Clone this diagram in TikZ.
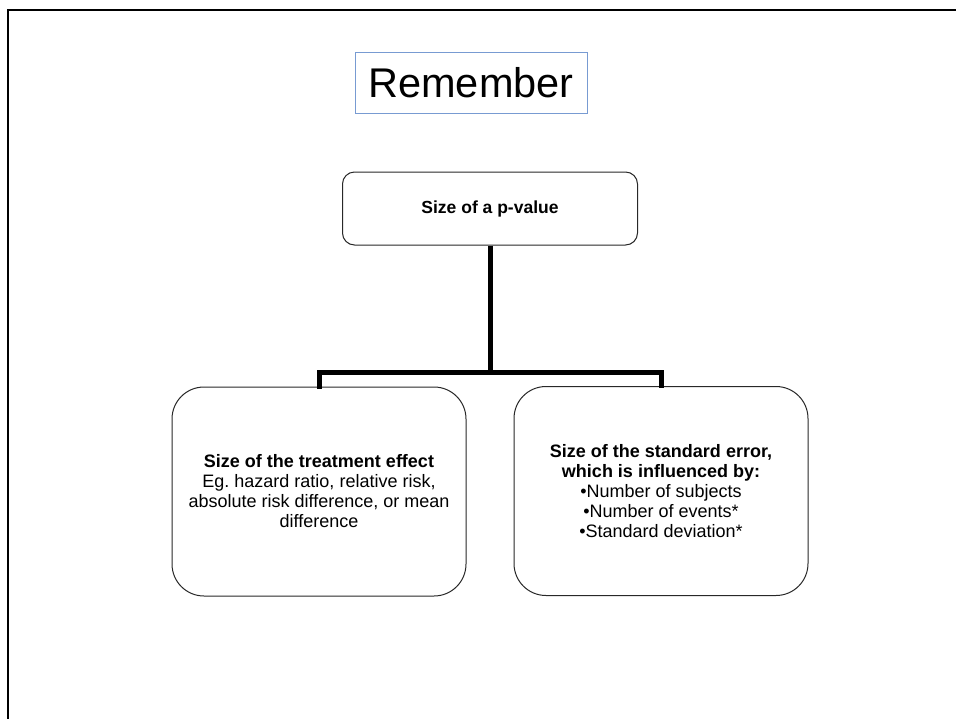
\documentclass[tikz,border=0pt]{standalone}
\usepackage{fontspec}
\setmainfont{Liberation Sans}
\frenchspacing
\definecolor{remblue}{RGB}{120,155,210}
\definecolor{boxline}{RGB}{40,40,40}
\tikzset{
  titlebox/.style={draw=remblue, line width=0.9pt, minimum width=232pt, minimum height=61pt, inner sep=0pt, font=\fontsize{41.5}{44}\selectfont},
  topbox/.style={draw=boxline, line width=1pt, rounded corners=12pt, minimum width=295pt, minimum height=73pt, inner sep=0pt, align=center, font=\fontsize{17.5}{20}\selectfont\bfseries},
  lowbox/.style={draw=boxline, line width=1pt, rounded corners=32pt, minimum width=294pt, minimum height=209pt, inner sep=0pt, align=center, font=\fontsize{18}{20}\selectfont\frenchspacing},
  conn/.style={line width=5pt, black, line join=miter},
  frame/.style={line width=2.5pt, black}
}
\begin{document}
\begin{tikzpicture}[x=1pt, y=-1pt]
\useasboundingbox (0,0) rectangle (956,718);
\fill[white] (0,0) rectangle (956,718);
\draw[frame] (8,730) -- (8,10) -- (970,10);
\node[titlebox] (rem) at (471,82.5) {Remember};
\node[topbox] (top) at (490,208.5) {Size of a p-value};
\node[lowbox] (left) at (319,491.5) {\textbf{Size of the treatment effect}\\Eg. hazard ratio, relative risk,\\absolute risk difference, or mean\\difference};
\node[lowbox] (right) at (661,491) {\textbf{Size of the standard error,}\\\textbf{which is influenced by:}\\•Number of subjects\\•Number of events*\\•Standard deviation*};
\coordinate (j) at (490,372);
\draw[conn] (top.south) -- (j);
\draw[conn] ([yshift=-2pt]left.north) |- (j) -| ([yshift=-2pt]right.north);
\end{tikzpicture}
\end{document}
